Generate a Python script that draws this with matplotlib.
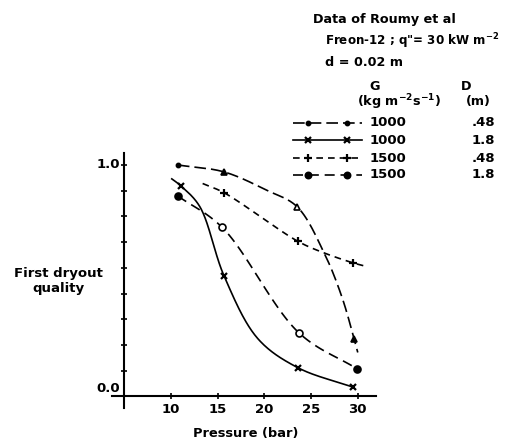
import numpy as np
import matplotlib.pyplot as plt
from matplotlib.lines import Line2D

plt.rcParams['font.family'] = ['DejaVu Sans']
plt.rcParams['font.weight'] = 'bold'

# measured points (pressure in bar, first dryout quality)
g1000_d048_p = [10.75, 15.7, 23.5, 29.6]
g1000_d048_x = [1.0, 0.97, 0.82, 0.25]
g1000_d18_p = [11.07, 15.7, 23.6, 29.5]
g1000_d18_x = [0.91, 0.52, 0.124, 0.04]
g1500_d048_p = [15.7, 23.6, 29.5]
g1500_d048_x = [0.88, 0.67, 0.577]
g1500_d18_p = [10.75, 15.5, 23.7, 29.9]
g1500_d18_x = [0.866, 0.73, 0.275, 0.12]

# hand-drawn curves
curve_a_p = [10.75, 15.7, 20.3, 23.5, 26.4, 28.3, 29.6, 30.0]
curve_a_x = [1.0, 0.97, 0.89, 0.82, 0.62, 0.43, 0.25, 0.19]
curve_b_p = [10.1, 11.07, 13.1, 15.7, 19.3, 23.6, 29.5]
curve_b_x = [0.94, 0.91, 0.82, 0.52, 0.25, 0.124, 0.04]
curve_c_p = [13.4, 15.7, 23.6, 26.4, 29.5, 30.6]
curve_c_x = [0.92, 0.88, 0.67, 0.62, 0.577, 0.565]
curve_d_p = [10.75, 15.5, 23.7, 29.9]
curve_d_x = [0.866, 0.73, 0.275, 0.12]

legend_G = ['1000', '1000', '1500', '1500']
legend_D = ['.48', '1.8', '.48', '1.8']


def smooth(xs, ys, n=40, alpha=0.5):
    # centripetal catmull-rom through the knots, in screen proportions
    sx, sy = 9.34, 231.7
    p = np.column_stack([np.asarray(xs) * sx, np.asarray(ys) * sy])
    p = np.vstack([2 * p[0] - p[1], p, 2 * p[-1] - p[-2]])
    out = []
    for i in range(1, len(p) - 2):
        p0, p1, p2, p3 = p[i - 1:i + 3]
        t0 = 0.0
        t1 = t0 + np.linalg.norm(p1 - p0) ** alpha
        t2 = t1 + np.linalg.norm(p2 - p1) ** alpha
        t3 = t2 + np.linalg.norm(p3 - p2) ** alpha
        t = np.linspace(t1, t2, n)[:, None]
        a1 = (t1 - t) / (t1 - t0) * p0 + (t - t0) / (t1 - t0) * p1
        a2 = (t2 - t) / (t2 - t1) * p1 + (t - t1) / (t2 - t1) * p2
        a3 = (t3 - t) / (t3 - t2) * p2 + (t - t2) / (t3 - t2) * p3
        b1 = (t2 - t) / (t2 - t0) * a1 + (t - t0) / (t2 - t0) * a2
        b2 = (t3 - t) / (t3 - t1) * a2 + (t - t1) / (t3 - t1) * a3
        out.append((t2 - t) / (t2 - t1) * b1 + (t - t1) / (t2 - t1) * b2)
    out = np.vstack(out)
    return out[:, 0] / sx, out[:, 1] / sy


fig = plt.figure(figsize=(5.06, 4.41), dpi=100)
ax = fig.add_axes([0.2213, 0.0748, 0.5227, 0.5773])
ax.set_xlim(3.7, 32)
ax.set_ylim(-0.05, 1.05)
for s in ['top', 'right']:
    ax.spines[s].set_visible(False)
ax.spines['left'].set_position(('data', 5))
ax.spines['bottom'].set_position(('data', 0))
for s in ['left', 'bottom']:
    ax.spines[s].set_linewidth(1.5)

ax.set_xticks([10, 15, 20, 25, 30])
ax.set_xticklabels(['10', '15', '20', '25', '30'])
ax.set_yticks(np.linspace(0, 1, 10))
ax.set_yticklabels([])
ax.tick_params(direction='inout', length=5, width=1.2, labelsize=9.5, pad=2)
ax.text(4.55, 1.0, '1.0', ha='right', va='center', fontsize=9.5)
ax.text(4.55, 0.035, '0.0', ha='right', va='center', fontsize=9.5)

lw = 1.2
dash_a = (7, 3)
dash_c = (4, 3)
dash_d = (6, 3.5)

x, y = smooth(curve_a_p, curve_a_x)
ax.plot(x, y, color='black', lw=lw, dashes=dash_a)
x, y = smooth(curve_b_p, curve_b_x)
ax.plot(x, y, color='black', lw=lw)
x, y = smooth(curve_c_p, curve_c_x)
ax.plot(x, y, color='black', lw=lw, dashes=dash_c)
x, y = smooth(curve_d_p, curve_d_x)
ax.plot(x, y, color='black', lw=lw, dashes=dash_d)

a_marks = [('o', 'black', 3), ('^', 'black', 4), ('^', 'white', 5), ('^', 'black', 5)]
for p, q, (m, fc, ms) in zip(g1000_d048_p, g1000_d048_x, a_marks):
    ax.plot(p, q, marker=m, ms=ms, mfc=fc, mec='black', mew=1.2, ls='none')
ax.plot(g1000_d18_p, g1000_d18_x, 'x', color='black', ms=5, mew=1.6)
ax.plot(g1500_d048_p, g1500_d048_x, '+', color='black', ms=6, mew=1.6)
d_fill = ['black', 'white', 'white', 'black']
for p, q, fc in zip(g1500_d18_p, g1500_d18_x, d_fill):
    ax.plot(p, q, 'o', ms=5, mfc=fc, mec='black', mew=1.2)

fig.text(58 / 506, 1 - 281 / 441, 'First dryout\nquality', ha='center', va='center',
         fontsize=9.5, linespacing=1.25)
fig.text(246 / 506, 1 - 433 / 441, 'Pressure (bar)', ha='center', va='center', fontsize=9.4)

# legend block, top right
fs = 9.2
fig.text(313 / 506, 1 - 20 / 441, 'Data of Roumy et al', ha='left', va='center', fontsize=fs)
fig.text(325 / 506, 1 - 41 / 441, 'Freon-12 ; q"= 30 kW m$^{\\mathbf{-2}}$',
         ha='left', va='center', fontsize=8.6)
fig.text(325 / 506, 1 - 62 / 441, 'd = 0.02 m', ha='left', va='center', fontsize=fs)
fig.text(375 / 506, 1 - 87 / 441, 'G', ha='center', va='center', fontsize=fs)
fig.text(399 / 506, 1 - 102 / 441, '(kg m$^{\\mathbf{-2}}$s$^{\\mathbf{-1}}$)',
         ha='center', va='center', fontsize=fs)
fig.text(466 / 506, 1 - 87 / 441, 'D', ha='center', va='center', fontsize=fs)
fig.text(478 / 506, 1 - 102 / 441, '(m)', ha='center', va='center', fontsize=fs)

styles = [
    dict(ls='-', dashes=dash_a, marker='o', ms=3),
    dict(ls='-', marker='x', ms=5, mew=1.6),
    dict(ls='-', dashes=dash_c, marker='+', ms=6, mew=1.6),
    dict(ls='-', dashes=dash_d, marker='o', ms=4.5),
]
rows_y = [123, 140, 158, 175]
for g, d, st, ry in zip(legend_G, legend_D, styles, rows_y):
    yy = 1 - ry / 441
    fig.add_artist(Line2D([293 / 506, 362 / 506], [yy, yy], color='black', lw=lw,
                          **{k: v for k, v in st.items() if k not in ('marker', 'ms', 'mew')}))
    fig.add_artist(Line2D([308 / 506, 347 / 506], [yy, yy], ls='none', color='black',
                          mfc='black', marker=st['marker'], ms=st['ms'], mew=st.get('mew', 1.2)))
    fig.text(370 / 506, yy, g, ha='left', va='center', fontsize=9.5)
    fig.text(495 / 506, yy, d, ha='right', va='center', fontsize=9.5)

fig.savefig('out.png', dpi=100)
